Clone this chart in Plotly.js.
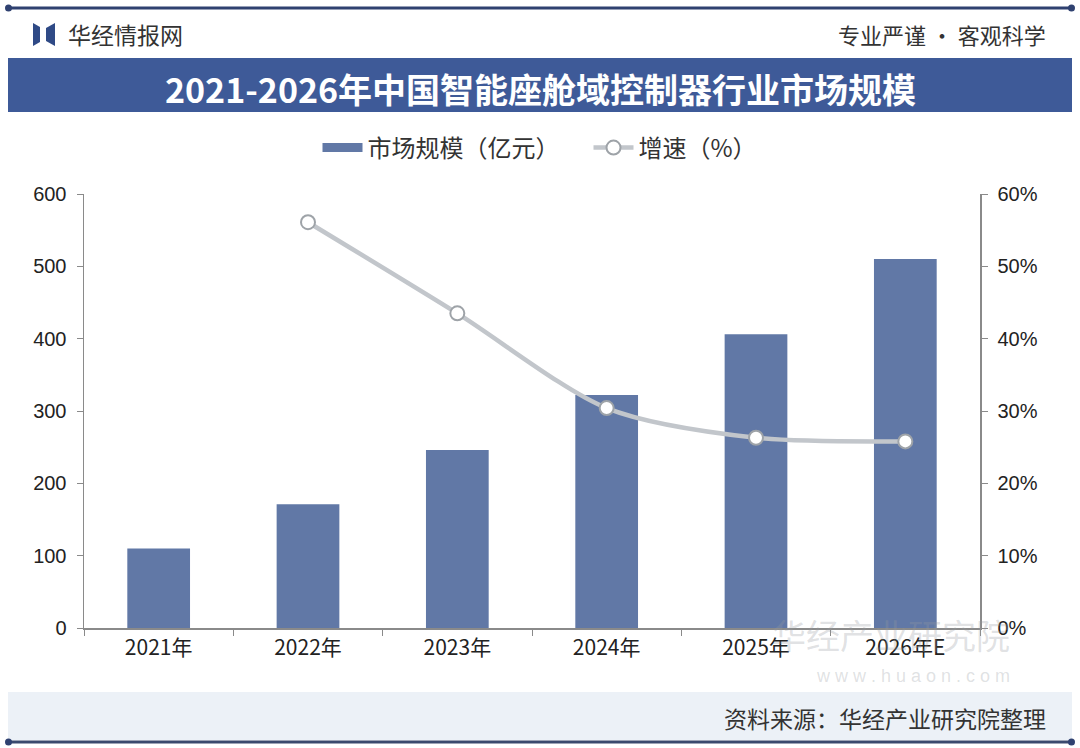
<!DOCTYPE html>
<html>
<head>
<meta charset="utf-8">
<script src="https://cdn.plot.ly/plotly-3.0.1.min.js"></script>
<style>
  html, body { margin: 0; padding: 0; background: #ffffff; }
  #chart { width: 1080px; height: 748px; }
</style>
</head>
<body>
<div id="chart"></div>
<script>
// data
var years = ['2021年', '2022年', '2023年', '2024年', '2025年', '2026年E'];
var marketSize = [110, 171, 246, 322, 406, 510];          // 亿元
var growthRate = [null, 56.1, 43.5, 30.4, 26.3, 25.8];    // %

var W = 1080, H = 748;
var M = {l: 84, r: 100, t: 194, b: 120};
var PW = W - M.l - M.r, PH = H - M.t - M.b;

// page pixel -> paper coords (paper is the plot area)
function px(x) { return (x - M.l) / PW; }
function py(y) { return (H - M.b - y) / PH; }

var cjk = '"Noto Sans CJK SC", "Liberation Sans", sans-serif';
var navy = '#2f4170';
var barColor = '#6178a6';

var bars = {
    type: 'bar',
    name: '市场规模（亿元）',
    x: years,
    y: marketSize,
    marker: {color: barColor},
    showlegend: false,
    hoverinfo: 'skip'
};

// legend swatch for the bars: a flat wide bar like the original
var barKey = {
    type: 'scatter',
    mode: 'lines',
    name: '市场规模（亿元）\u2003',
    x: [null],
    y: [null],
    line: {color: barColor, width: 9},
    hoverinfo: 'skip'
};

var growth = {
    type: 'scatter',
    mode: 'lines+markers',
    name: '增速（%）',
    x: years,
    y: growthRate,
    yaxis: 'y2',
    line: {color: '#c2c6cb', width: 4.5, shape: 'spline', smoothing: 0.8},
    marker: {symbol: 'circle', size: 14, color: '#ffffff', line: {color: '#9ea3a8', width: 2}},
    hoverinfo: 'skip'
};

var shapes = [
    // top rule
    {type: 'line', xref: 'paper', yref: 'paper', x0: px(8), x1: px(1072), y0: py(8), y1: py(8),
     line: {color: navy, width: 3}},
    {type: 'circle', xref: 'paper', yref: 'paper', x0: px(5), x1: px(12), y0: py(4.5), y1: py(11.5),
     fillcolor: navy, line: {width: 0}},
    {type: 'circle', xref: 'paper', yref: 'paper', x0: px(1068), x1: px(1075), y0: py(4.5), y1: py(11.5),
     fillcolor: navy, line: {width: 0}},
    // logo mark
    {type: 'path', xref: 'paper', yref: 'paper', fillcolor: '#2f4a86', line: {width: 0},
     path: 'M' + px(33) + ',' + py(23) + ' L' + px(40) + ',' + py(27) + ' L' + px(40) + ',' + py(42) +
           ' L' + px(33) + ',' + py(46) + ' Z'},
    {type: 'path', xref: 'paper', yref: 'paper', fillcolor: '#2f4a86', line: {width: 0},
     path: 'M' + px(55) + ',' + py(23) + ' L' + px(46) + ',' + py(28) + ' L' + px(46) + ',' + py(41) +
           ' L' + px(55) + ',' + py(46) + ' Z'},
    // title banner
    {type: 'rect', xref: 'paper', yref: 'paper', x0: px(8), x1: px(1072), y0: py(58), y1: py(112),
     fillcolor: '#3e5a98', line: {width: 0}, layer: 'below'},
    // footer band
    {type: 'rect', xref: 'paper', yref: 'paper', x0: px(8), x1: px(1072), y0: py(692), y1: py(740),
     fillcolor: '#ecf1f7', line: {width: 0}, layer: 'below'},
    // bottom rule
    {type: 'line', xref: 'paper', yref: 'paper', x0: px(8), x1: px(1072), y0: py(742), y1: py(742),
     line: {color: '#3a4a6e', width: 3}},
    {type: 'circle', xref: 'paper', yref: 'paper', x0: px(5), x1: px(12), y0: py(738.5), y1: py(745.5),
     fillcolor: navy, line: {width: 0}},
    {type: 'circle', xref: 'paper', yref: 'paper', x0: px(1068), x1: px(1075), y0: py(738.5), y1: py(745.5),
     fillcolor: navy, line: {width: 0}}
];

var annotations = [
    {text: '华经情报网', xref: 'paper', yref: 'paper', x: px(66), y: py(34), xanchor: 'left', yanchor: 'middle',
     showarrow: false, font: {family: cjk, size: 23, color: '#333333'}},
    {text: '专业严谨 • 客观科学', xref: 'paper', yref: 'paper', x: px(1048), y: py(34), xanchor: 'right', yanchor: 'middle',
     showarrow: false, font: {family: cjk, size: 22, color: '#333333'}},
    {text: '<b>2021-2026年中国智能座舱域控制器行业市场规模</b>', xref: 'paper', yref: 'paper', x: px(540), y: py(88),
     xanchor: 'center', yanchor: 'middle', showarrow: false, font: {family: cjk, size: 34, color: '#ffffff'}},
    // watermark
    {text: '华经产业研究院', xref: 'paper', yref: 'paper', x: px(1012), y: py(634), xanchor: 'right', yanchor: 'middle',
     showarrow: false, font: {family: cjk, size: 34, color: 'rgba(150,155,160,0.3)'}},
    {text: 'w w w . h u a o n . c o m', xref: 'paper', yref: 'paper', x: px(1012), y: py(676), xanchor: 'right', yanchor: 'middle',
     showarrow: false, font: {family: '"Liberation Sans", sans-serif', size: 18, color: 'rgba(150,155,160,0.3)'}},
    {text: '资料来源：华经产业研究院整理', xref: 'paper', yref: 'paper', x: px(1048), y: py(718), xanchor: 'right', yanchor: 'middle',
     showarrow: false, font: {family: cjk, size: 23, color: '#333333'}}
];

var layout = {
    width: W,
    height: H,
    margin: M,
    paper_bgcolor: '#ffffff',
    plot_bgcolor: 'rgba(0,0,0,0)',
    bargap: 0.58,
    showlegend: true,
    legend: {
        orientation: 'h',
        x: px(540), xanchor: 'center',
        y: py(148), yanchor: 'middle',
        font: {family: cjk, size: 24, color: '#333333'},
        itemwidth: 40,
        tracegroupgap: 0,
        bgcolor: 'rgba(0,0,0,0)'
    },
    xaxis: {
        type: 'category',
        showline: true, linecolor: '#8a8a8a', linewidth: 1.5,
        ticks: 'outside', tickson: 'boundaries', ticklen: 6, tickcolor: '#8a8a8a',
        showgrid: false, zeroline: false,
        tickfont: {family: cjk, size: 21, color: '#222222'}
    },
    yaxis: {
        range: [0, 600], dtick: 100,
        showline: true, linecolor: '#8a8a8a', linewidth: 1.5,
        ticks: 'outside', ticklen: 6, tickcolor: '#8a8a8a', ticklabelstandoff: 6,
        showgrid: false, zeroline: false,
        tickfont: {family: '"Liberation Sans", sans-serif', size: 20, color: '#222222'}
    },
    yaxis2: {
        overlaying: 'y', side: 'right',
        range: [0, 60], dtick: 10, ticksuffix: '%',
        showline: true, linecolor: '#8a8a8a', linewidth: 1.5,
        ticks: 'outside', ticklen: 6, tickcolor: '#8a8a8a', ticklabelstandoff: 6,
        showgrid: false, zeroline: false,
        tickfont: {family: '"Liberation Sans", sans-serif', size: 20, color: '#222222'}
    },
    shapes: shapes,
    annotations: annotations
};

Plotly.newPlot('chart', [bars, barKey, growth], layout, {staticPlot: true, displayModeBar: false});
</script>
</body>
</html>
